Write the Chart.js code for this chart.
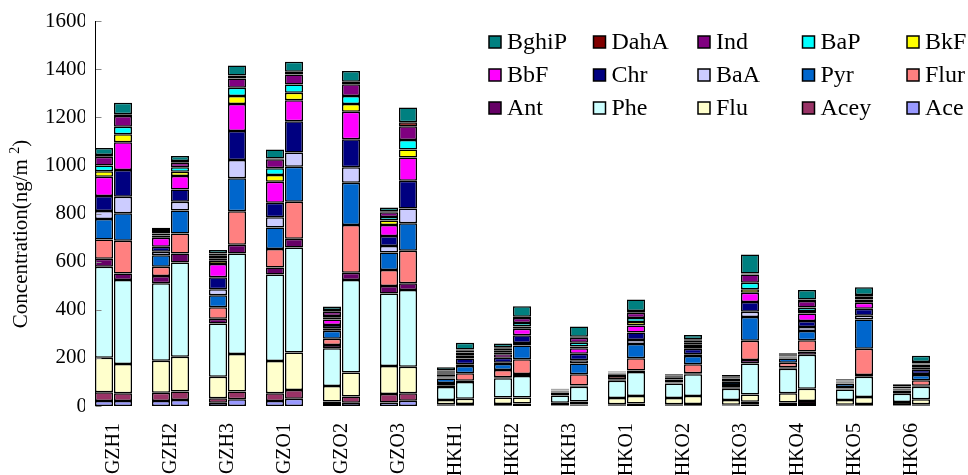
<!DOCTYPE html>
<html>
<head>
<meta charset="utf-8">
<title>PAH deposition</title>
<script src="https://cdn.jsdelivr.net/npm/chart.js@4"></script>
<style>
  html, body { margin: 0; padding: 0; background: #fff; }
  #wrap { width: 968px; height: 475px; }
</style>
</head>
<body>
<div id="wrap"><canvas id="chartPah" width="968" height="475"></canvas></div>
<script>
// sites along the x axis, two stacked bars each
const sites = ['GZH1', 'GZH2', 'GZH3', 'GZO1', 'GZO2', 'GZO3', 'HKH1', 'HKH2', 'HKH3',
  'HKO1', 'HKO2', 'HKO3', 'HKO4', 'HKO5', 'HKO6'];

// stacking order, bottom to top
const seriesNames = ['Ace', 'Acey', 'Flu', 'Phe', 'Ant', 'Flur', 'Pyr', 'BaA', 'Chr',
  'BbF', 'BkF', 'BaP', 'Ind', 'DahA', 'BghiP'];
const seriesColors = ['#9999FF', '#993366', '#FFFFCC', '#CCFFFF', '#660066', '#FF8080',
  '#0066CC', '#CCCCFF', '#000080', '#FF00FF', '#FFFF00', '#00FFFF', '#800080', '#800000', '#008080'];

// left bar of each site (ng/m2)
const ace1   = [21, 21, 14, 21, 8, 15, 3, 3, 2, 3, 3, 2, 4, 2, 2];
const acey1  = [36, 34, 18, 32, 11, 35, 4, 5, 2, 4, 4, 3, 11, 3, 2];
const flu1   = [144, 133, 90, 134, 64, 116, 18, 27, 10, 26, 26, 20, 38, 20, 13];
const phe1   = [378, 322, 221, 359, 157, 302, 54, 80, 30, 72, 61, 47, 102, 44, 34];
const ant1   = [33, 30, 20, 30, 13, 31, 5, 4, 2, 6, 4, 4, 6, 4, 3];
const flur1  = [80, 39, 47, 76, 27, 66, 12, 31, 4, 14, 6, 11, 19, 6, 4];
const pyr1   = [85, 48, 50, 90, 33, 73, 18, 25, 4, 7, 6, 13, 17, 14, 4];
const baa1   = [33, 14, 25, 42, 10, 27, 4, 5, 2, 2, 2, 3, 2, 2, 2];
const chr1   = [63, 21, 50, 61, 14, 41, 6, 21, 4, 2, 4, 5, 3, 3, 4];
const bbf1   = [80, 37, 55, 87, 23, 46, 6, 14, 3, 1, 3, 4, 3, 2, 4];
const bkf1   = [23, 10, 14, 28, 7, 19, 4, 8, 1, 1, 1, 2, 1, 1, 1];
const bap1   = [23, 8, 10, 28, 7, 14, 4, 7, 1, 1, 2, 2, 2, 1, 2];
const ind1   = [37, 10, 13, 37, 18, 20, 6, 10, 3, 1, 3, 4, 3, 3, 4];
const daha1  = [7, 4, 7, 4, 7, 4, 4, 4, 1, 1, 2, 2, 2, 1, 2];
const bghip1 = [29, 10, 14, 37, 14, 16, 13, 16, 3, 2, 5, 7, 6, 5, 9];

// right bar of each site (ng/m2)
const ace2   = [21, 25, 28, 30, 14, 22, 3, 4, 3, 4, 3, 7, 8, 3, 3];
const acey2  = [32, 35, 32, 36, 25, 31, 5, 6, 3, 6, 5, 11, 13, 5, 4];
const flu2   = [122, 145, 156, 156, 100, 110, 22, 25, 13, 32, 34, 30, 51, 29, 21];
const phe2   = [349, 391, 418, 437, 385, 319, 70, 90, 61, 99, 90, 129, 141, 85, 52];
const ant2   = [27, 38, 36, 36, 30, 28, 5, 8, 5, 7, 4, 14, 13, 7, 4];
const flur2  = [136, 83, 139, 154, 198, 135, 31, 61, 47, 50, 37, 80, 47, 109, 23];
const pyr2   = [114, 95, 137, 145, 176, 114, 30, 57, 45, 60, 35, 99, 39, 122, 22];
const baa2   = [69, 37, 76, 59, 64, 62, 7, 11, 13, 16, 7, 22, 16, 15, 4];
const chr2   = [111, 51, 121, 130, 117, 115, 24, 32, 27, 31, 23, 40, 25, 29, 18];
const bbf2   = [115, 56, 112, 88, 114, 97, 12, 27, 23, 30, 11, 39, 31, 25, 10];
const bkf2   = [33, 18, 33, 31, 32, 33, 7, 9, 7, 14, 6, 14, 11, 7, 5];
const bap2   = [32, 18, 35, 34, 33, 39, 6, 15, 16, 17, 8, 27, 14, 7, 6];
const ind2   = [44, 19, 38, 42, 49, 58, 8, 21, 21, 22, 8, 34, 27, 11, 5];
const daha2  = [7, 7, 13, 11, 11, 16, 5, 5, 4, 7, 6, 5, 7, 7, 6];
const bghip2 = [48, 21, 41, 42, 44, 62, 28, 44, 42, 48, 18, 79, 39, 32, 26];

const yMax = 1600;
const yStep = 200;

const leftBars = [ace1, acey1, flu1, phe1, ant1, flur1, pyr1, baa1, chr1, bbf1, bkf1, bap1, ind1, daha1, bghip1];
const rightBars = [ace2, acey2, flu2, phe2, ant2, flur2, pyr2, baa2, chr2, bbf2, bkf2, bap2, ind2, daha2, bghip2];

const SERIF = "'Times New Roman', 'Liberation Serif', Tinos, 'DejaVu Serif', serif";
Chart.defaults.font.family = SERIF;
Chart.defaults.color = '#000';

const barStyle = {
  borderColor: '#000',
  borderWidth: 1.5,
  borderSkipped: false,
  categoryPercentage: 0.667,
  barPercentage: 0.95,
};

const datasets = [];
seriesNames.forEach((name, i) => {
  datasets.push({ label: name, data: leftBars[i], stack: 'left', backgroundColor: seriesColors[i], ...barStyle });
  datasets.push({ label: name, data: rightBars[i], stack: 'right', backgroundColor: seriesColors[i], ...barStyle });
});

// y axis line sits just left of the first bar, with short ticks pointing inward
const axisLine = {
  id: 'axisLine',
  afterDatasetsDraw(chart) {
    const { ctx, chartArea, scales } = chart;
    const x = Math.round(chartArea.left + 10) + 0.5;
    ctx.save();
    ctx.strokeStyle = '#888';
    ctx.lineWidth = 1;
    for (let v = 0; v <= yMax; v += yStep) {
      const y = Math.round(scales.y.getPixelForValue(v)) + 0.5;
      ctx.beginPath();
      ctx.moveTo(x, y);
      ctx.lineTo(x + 6, y);
      ctx.stroke();
    }
    ctx.strokeStyle = '#000';
    ctx.beginPath();
    ctx.moveTo(x, chartArea.top);
    ctx.lineTo(x, chartArea.bottom);
    ctx.stroke();
    ctx.restore();
  },
};

// rotated axis title with a superscript
const yTitle = {
  id: 'yTitle',
  afterDraw(chart) {
    const { ctx } = chart;
    const main = 'Concentration(ng/m ';
    ctx.save();
    ctx.translate(21, 234);
    ctx.rotate(-Math.PI / 2);
    ctx.fillStyle = '#000';
    ctx.textBaseline = 'middle';
    ctx.font = '21px ' + SERIF;
    const wMain = ctx.measureText(main).width;
    const wClose = ctx.measureText(')').width;
    ctx.font = '14px ' + SERIF;
    const wSup = ctx.measureText('2').width;
    let x = -(wMain + wSup + wClose) / 2;
    ctx.font = '21px ' + SERIF;
    ctx.fillText(main, x, 0);
    x += wMain;
    ctx.font = '14px ' + SERIF;
    ctx.fillText('2', x, -6);
    x += wSup;
    ctx.font = '21px ' + SERIF;
    ctx.fillText(')', x, 0);
    ctx.restore();
  },
};

// legend in a fixed 5 x 3 grid, top series first
const gridLegend = {
  id: 'gridLegend',
  afterDraw(chart) {
    const { ctx } = chart;
    const items = chart.data.datasets.filter((d) => d.stack === 'left').reverse();
    ctx.save();
    ctx.font = '24px ' + SERIF;
    ctx.textBaseline = 'middle';
    items.forEach((d, k) => {
      const col = k % 5;
      const row = Math.floor(k / 5);
      const bx = 489 + col * 104.5;
      const cy = 42 + row * 33;
      ctx.fillStyle = d.backgroundColor;
      ctx.fillRect(bx, cy - 6, 12, 12);
      ctx.strokeStyle = '#000';
      ctx.lineWidth = 1.5;
      ctx.strokeRect(bx, cy - 6, 12, 12);
      ctx.fillStyle = '#000';
      ctx.fillText(d.label, bx + 18, cy + 1);
    });
    ctx.restore();
  },
};

new Chart(document.getElementById('chartPah'), {
  type: 'bar',
  data: { labels: sites, datasets },
  options: {
    responsive: false,
    animation: false,
    devicePixelRatio: 1,
    layout: { padding: { top: 21, right: 28, bottom: 0, left: 0 } },
    plugins: {
      legend: { display: false },
      tooltip: { enabled: false },
    },
    scales: {
      x: {
        type: 'category',
        offset: true,
        grid: { display: false, drawTicks: false },
        border: { display: false },
        ticks: {
          autoSkip: false,
          minRotation: 90,
          maxRotation: 90,
          padding: 17,
          font: { size: 20 },
          color: '#000',
        },
        afterFit: (s) => { s.height = 69; },
      },
      y: {
        stacked: true,
        min: 0,
        max: yMax,
        grid: { display: false, drawTicks: false },
        border: { display: false },
        ticks: {
          stepSize: yStep,
          padding: -2,
          font: { size: 21 },
          color: '#000',
          callback: (v) => String(v),
        },
        afterFit: (s) => { s.width = 85; },
      },
    },
  },
  plugins: [axisLine, yTitle, gridLegend],
});
</script>
</body>
</html>
